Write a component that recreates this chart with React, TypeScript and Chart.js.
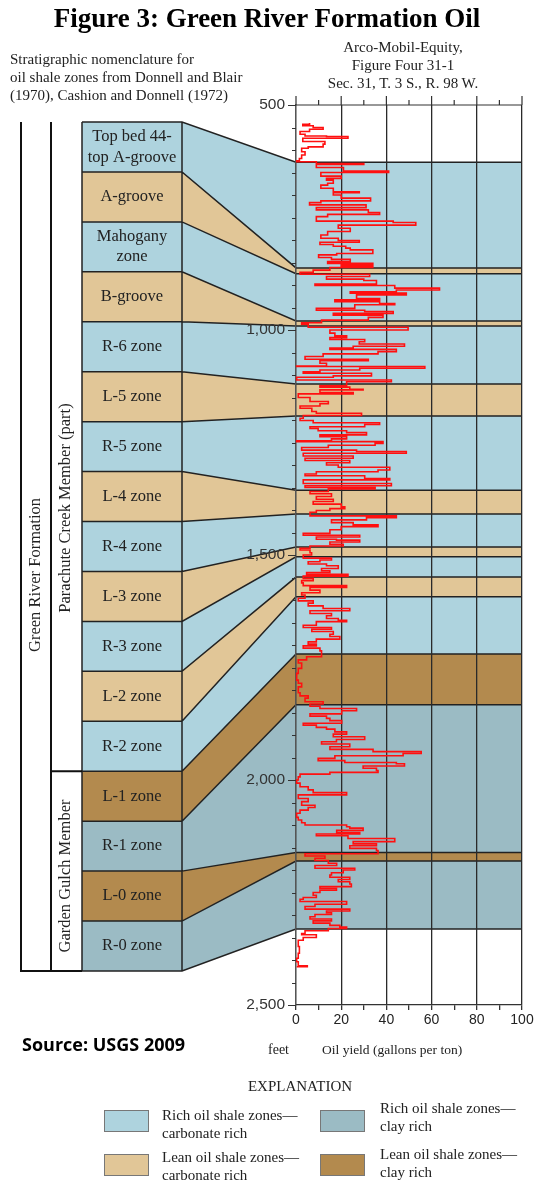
import { useEffect, useRef } from "react";
import { Chart, registerables } from "chart.js";

Chart.register(...registerables);

// ---------- DATA ----------
const zoneNames = [
  "Top bed 44-\ntop A-groove",
  "A-groove",
  "Mahogany\nzone",
  "B-groove",
  "R-6 zone",
  "L-5 zone",
  "R-5 zone",
  "L-4 zone",
  "R-4 zone",
  "L-3 zone",
  "R-3 zone",
  "L-2 zone",
  "R-2 zone",
  "L-1 zone",
  "R-1 zone",
  "L-0 zone",
  "R-0 zone",
];
// rc = rich carbonate, lc = lean carbonate, rk = rich clay, lk = lean clay
const zoneKinds = ["rc", "lc", "rc", "lc", "rc", "lc", "rc", "lc", "rc", "lc", "rc", "lc", "rc", "lk", "rk", "lk", "rk"];
// zone boundary depths (feet) in the well
const zoneDepths = [627, 862, 875, 980, 991, 1120, 1191, 1356, 1409, 1482, 1504, 1549, 1593, 1720, 1833, 2161, 2180, 2331];

const kindColors: Record<string, string> = {
  rc: "#aed3de",
  lc: "#e1c697",
  rk: "#9bbbc4",
  lk: "#b38a4e",
};

const legendItems = [
  { kind: "rc", lines: ["Rich oil shale zones—", "carbonate rich"] },
  { kind: "rk", lines: ["Rich oil shale zones—", "clay rich"] },
  { kind: "lc", lines: ["Lean oil shale zones—", "carbonate rich"] },
  { kind: "lk", lines: ["Lean oil shale zones—", "clay rich"] },
];

const depthRange = [500, 2500];
const yieldRange = [0, 100];

// oil-yield log (depth in feet, yield in gallons per ton)
const logDepth = [
  540, 543, 546, 550, 554, 559, 565, 569, 570, 574, 581, 587, 593, 596, 604, 611, 619, 624,
  626, 630, 632, 639, 647, 650, 658, 663, 667, 674, 678, 685, 693, 695, 700, 707, 713, 717,
  722, 728, 733, 739, 743, 748, 758, 761, 767, 774, 781, 789, 796, 801, 805, 810, 814, 818,
  822, 830, 833, 839, 843, 848, 852, 855, 858, 861, 867, 872, 876, 881, 887, 890, 898, 901,
  907, 911, 915, 918, 922, 930, 933, 937, 941, 944, 952, 956, 959, 963, 967, 972, 978, 984,
  987, 994, 1000, 1007, 1013, 1017, 1021, 1026, 1031, 1036, 1040, 1043, 1048, 1053, 1059, 1065,
  1068, 1074, 1080, 1081, 1085, 1089, 1093, 1096, 1102, 1105, 1111, 1115, 1124, 1127, 1132, 1133,
  1139, 1142, 1150, 1159, 1164, 1169, 1174, 1181, 1185, 1190, 1196, 1201, 1206, 1210, 1215, 1219,
  1224, 1228, 1233, 1237, 1242, 1246, 1248, 1252, 1256, 1261, 1267, 1270, 1274, 1280, 1285, 1290,
  1295, 1300, 1305, 1311, 1315, 1320, 1324, 1330, 1333, 1341, 1346, 1350, 1353, 1359, 1364, 1370,
  1376, 1381, 1387, 1393, 1397, 1401, 1405, 1413, 1417, 1422, 1428, 1433, 1437, 1444, 1452, 1456,
  1460, 1465, 1467, 1471, 1476, 1480, 1485, 1489, 1495, 1500, 1507, 1511, 1515, 1520, 1524, 1530,
  1535, 1539, 1543, 1547, 1552, 1557, 1562, 1568, 1572, 1578, 1584, 1589, 1596, 1602, 1607, 1613,
  1619, 1624, 1630, 1635, 1641, 1645, 1648, 1656, 1661, 1665, 1670, 1676, 1681, 1687, 1693, 1698,
  1702, 1707, 1713, 1717, 1726, 1733, 1740, 1752, 1763, 1778, 1785, 1793, 1800, 1806, 1813, 1818,
  1826, 1831, 1836, 1841, 1846, 1853, 1858, 1863, 1868, 1874, 1878, 1883, 1887, 1893, 1898, 1904,
  1910, 1915, 1920, 1926, 1932, 1937, 1941, 1946, 1952, 1957, 1961, 1964, 1969, 1974, 1979, 1983,
  1987, 1993, 2000, 2007, 2015, 2022, 2028, 2033, 2041, 2048, 2056, 2061, 2067, 2074, 2083, 2089,
  2095, 2100, 2104, 2107, 2112, 2117, 2120, 2124, 2130, 2137, 2142, 2146, 2152, 2157, 2164, 2169,
  2174, 2179, 2185, 2190, 2196, 2200, 2206, 2211, 2216, 2221, 2226, 2231, 2237, 2241, 2245, 2250,
  2256, 2261, 2265, 2270, 2276, 2281, 2287, 2291, 2295, 2299, 2304, 2309, 2313, 2318, 2323, 2327,
  2330, 2335, 2341, 2344, 2350, 2356, 2370, 2385, 2396, 2404, 2413, 2415,
];
const logYield = [
  6, 3, 7.6, 12, 6, 1.8, 4, 13.5, 23, 3, 12.8, 12, 5.4, 2.5, 4, 2.5, 1.5, 0.3,
  9, 30, 9, 21, 41, 11, 20, 13.5, 16.5, 14, 11, 16.5, 28, 16.5, 20, 33, 11, 6,
  31, 9, 32, 37, 14, 9, 43, 53, 18.7, 24, 14, 11, 18.7, 28, 10.6, 16.5, 22, 24,
  34, 18, 10, 15.7, 24, 14, 34, 20, 34, 15, 7.6, 1.8, 32.6, 13.5, 30, 35.6, 8.4, 43.7,
  63.5, 44.4, 24, 48.8, 26.8, 37, 17.2, 37, 43.7, 26, 9, 30.4, 43, 16.5, 38.5, 32, 11.3, 2.5,
  5.4, 49.6, 15, 17.2, 22.4, 15, 30.4, 28, 48, 25.3, 15, 44.4, 36.3, 12, 4, 32,
  10.6, 13.5, 0.3, 57, 28.2, 10.6, 3.2, 33.4, 16.5, 0.3, 42.2, 22.4, 10.6, 23.8, 29.7, 10.6,
  25.3, 1, 6.2, 14.3, 10.6, 1.8, 7, 9, 29, 3.2, 1.8, 7.6, 37, 30.4, 6.2, 9.8,
  22.4, 31.2, 10.6, 22.4, 15.7, 0.3, 38.5, 35, 14.3, 2.5, 26.8, 48.8, 3.2, 25.3, 4, 23.8,
  13.5, 18.7, 41.5, 36.3, 9, 4, 30.4, 41.5, 3.2, 42.2, 4, 35, 14.3, 6.2, 15.7, 9,
  16.5, 7.6, 20, 21.6, 15, 9, 6.2, 44.4, 31.2, 15.7, 25.3, 36.3, 20, 15, 3.2, 28.2,
  9, 17.9, 28.2, 15, 20.9, 6.2, 1.8, 6.2, 6.9, 3.2, 15.7, 10.6, 5.4, 13.5, 18.7, 11.3,
  15, 4.7, 23, 3.2, 7.6, 2.5, 3.2, 22.4, 6.2, 10.6, 2.5, 4, 1, 7.6, 5.4, 12,
  23.8, 6.2, 15.7, 13.5, 18.7, 22.4, 9, 3.2, 15.7, 7, 16.5, 15, 19.4, 9, 5.4, 9,
  3.2, 10.6, 11.3, 11.3, 4.7, 1, 2.5, 1, 0.3, 1, 2.5, 1, 1, 1.8, 5.4, 4,
  12, 6.2, 10.6, 26.8, 20.2, 6.2, 13.5, 15, 20.2, 3.2, 9, 13.5, 17.2, 22.4, 16.5, 30.4,
  17.9, 11.3, 23.8, 15, 34.1, 55.4, 47.4, 17.2, 9.8, 21.6, 44.4, 48, 29.7, 35.6, 36.3, 15,
  1.8, 1, 0.3, 1.8, 5.4, 7.6, 22.4, 1, 5.4, 2.5, 8.4, 5.4, 1.8, 0.3, 1, 2.5,
  4, 22.4, 23.8, 29.7, 18, 28.2, 9, 23, 43.7, 25.3, 35.6, 23.8, 35.6, 36.3, 4, 12.8,
  8.4, 14.3, 18, 8.4, 26, 20.9, 15.7, 15, 23.8, 18.7, 23.8, 24.5, 10.6, 17.9, 10.6, 7.6,
  9, 3.2, 1.8, 22.4, 8.4, 4, 23.8, 13.5, 15.7, 8.4, 6.2, 15.7, 7.6, 15, 19.4, 22.4,
  14.3, 4, 2.5, 9, 3.2, 1, 1.5, 1, 0.3, 1, 5, 0.3,
];

// ---------- STYLE ----------
const SERIF = "'Liberation Serif', 'DejaVu Serif', serif";
const SANS = "'Liberation Sans', 'DejaVu Sans', sans-serif";
const INK = "#222";

const stratPlugin = {
  id: "strat",
  beforeDraw(chart: any) {
    const { ctx, chartArea: ca, scales } = chart;
    const ys = scales.y;
    const L = ca.left;
    const R = ca.right;
    const boxL = 82;
    const boxR = 182;
    const boxTop = ca.top + 17;
    const boxBot = ca.bottom - 34;
    const n = zoneNames.length;
    const bh = (boxBot - boxTop) / n;
    ctx.save();
    // fills
    for (let i = 0; i < n; i++) {
      const y0 = ys.getPixelForValue(zoneDepths[i]);
      const y1 = ys.getPixelForValue(zoneDepths[i + 1]);
      const b0 = boxTop + i * bh;
      const b1 = b0 + bh;
      ctx.fillStyle = kindColors[zoneKinds[i]];
      ctx.fillRect(L, y0, R - L, y1 - y0);
      ctx.beginPath();
      ctx.moveTo(boxR, b0);
      ctx.lineTo(L, y0);
      ctx.lineTo(L, y1);
      ctx.lineTo(boxR, b1);
      ctx.closePath();
      ctx.fill();
      ctx.fillRect(boxL, b0, boxR - boxL, bh);
    }
    // lines
    ctx.strokeStyle = INK;
    ctx.lineWidth = 1.5;
    ctx.beginPath();
    for (let j = 0; j <= n; j++) {
      const y = ys.getPixelForValue(zoneDepths[j]);
      const b = boxTop + j * bh;
      ctx.moveTo(boxL, b);
      ctx.lineTo(boxR, b);
      ctx.lineTo(L, y);
      ctx.lineTo(R, y);
    }
    ctx.moveTo(boxL, boxTop);
    ctx.lineTo(boxL, boxBot);
    ctx.moveTo(boxR, boxTop);
    ctx.lineTo(boxR, boxBot);
    ctx.stroke();
    // brackets
    ctx.lineWidth = 2;
    ctx.strokeStyle = "#111";
    const memberY = boxTop + 13 * bh;
    ctx.beginPath();
    ctx.moveTo(21, boxTop);
    ctx.lineTo(21, boxBot);
    ctx.lineTo(boxL, boxBot);
    ctx.moveTo(51, boxTop);
    ctx.lineTo(51, boxBot);
    ctx.moveTo(51, memberY);
    ctx.lineTo(boxL, memberY);
    ctx.stroke();
    // zone labels
    ctx.fillStyle = INK;
    ctx.font = `16.5px ${SERIF}`;
    ctx.textAlign = "center";
    ctx.textBaseline = "middle";
    for (let i = 0; i < n; i++) {
      const cy = boxTop + (i + 0.5) * bh;
      const lines = zoneNames[i].split("\n");
      lines.forEach((t, k) => {
        ctx.fillText(t, (boxL + boxR) / 2, cy + (k - (lines.length - 1) / 2) * 20.5);
      });
    }
    // rotated labels
    const rot = (t: string, x: number, y: number) => {
      ctx.save();
      ctx.translate(x, y);
      ctx.rotate(-Math.PI / 2);
      ctx.fillText(t, 0, 0);
      ctx.restore();
    };
    ctx.font = `16.5px ${SERIF}`;
    rot("Green River Formation", 36, 575);
    rot("Parachute Creek Member (part)", 66, 508);
    rot("Garden Gulch Member", 66, 876);
    ctx.restore();
  },
  afterDraw(chart: any) {
    const { ctx, chartArea: ca, scales } = chart;
    const ys = scales.y;
    const xs = scales.x;
    ctx.save();
    ctx.strokeStyle = "#333";
    ctx.lineWidth = 1.2;
    ctx.beginPath();
    ys.ticks.forEach((t: any) => {
      const y = Math.round(ys.getPixelForValue(t.value)) + 0.5;
      const len = t.value % 500 === 0 ? 8 : 4;
      ctx.moveTo(ca.left - len, y);
      ctx.lineTo(ca.left, y);
    });
    xs.ticks.forEach((t: any) => {
      const x = xs.getPixelForValue(t.value);
      const len = t.value % 20 === 0 ? 9 : 5;
      ctx.moveTo(x, ca.top - len);
      ctx.lineTo(x, ca.top);
    });
    ctx.moveTo(ca.left, ca.top);
    ctx.lineTo(ca.right, ca.top);
    ctx.stroke();
    ctx.restore();
  },
};

export default function App() {
  const ref = useRef<HTMLCanvasElement | null>(null);

  useEffect(() => {
    if (!ref.current) return;
    const chart = new Chart(ref.current, {
      type: "scatter",
      data: {
        datasets: [
          {
            data: logDepth.map((d, i) => ({ x: logYield[i], y: d })),
            showLine: true,
            stepped: "after",
            borderColor: "#ff1010",
            borderWidth: 1.6,
            pointRadius: 0,
            clip: 6,
          } as any,
        ],
      },
      options: {
        responsive: true,
        maintainAspectRatio: false,
        animation: false,
        events: [],
        layout: { padding: { left: 0, right: 16, top: 105, bottom: 0 } },
        plugins: {
          legend: { display: false },
          tooltip: { enabled: false },
        },
        scales: {
          x: {
            type: "linear",
            position: "bottom",
            min: yieldRange[0],
            max: yieldRange[1],
            afterFit: (s: any) => {
              s.height = 177;
            },
            ticks: {
              stepSize: 10,
              autoSkip: false,
              maxRotation: 0,
              padding: 2,
              color: INK,
              font: { family: SANS, size: 14 },
              callback: (v: any) => (Number(v) % 20 === 0 ? String(v) : ""),
            },
            grid: {
              color: (c: any) => (c.tick && c.tick.value % 20 === 0 ? "#2a2a2a" : "rgba(0,0,0,0)"),
              lineWidth: 1.3,
              tickColor: "#333",
              tickLength: 5,
              drawTicks: true,
            },
            border: { display: true, color: "#333", width: 1.3 },
          },
          y: {
            type: "linear",
            position: "left",
            reverse: true,
            min: depthRange[0],
            max: depthRange[1],
            afterFit: (s: any) => {
              s.width = 296;
            },
            ticks: {
              stepSize: 50,
              autoSkip: false,
              padding: 11,
              color: "#333",
              font: { family: SANS, size: 15.5 },
              callback: (v: any) => (Number(v) % 500 === 0 ? Number(v).toLocaleString("en-US") : ""),
            },
            grid: { display: false, drawTicks: false },
            border: { display: true, color: "#555", width: 1.3 },
          },
        },
      },
      plugins: [stratPlugin],
    });
    return () => chart.destroy();
  }, []);

  const abs = (style: any) => ({ position: "absolute" as const, ...style });

  return (
    <div style={{ position: "absolute", left: 0, top: 0, width: 538, height: 1182, background: "#fff", color: INK, fontFamily: SERIF, overflow: "hidden" }}>
      <div style={abs({ left: 0, top: 0, width: 538, height: 1182 })}>
        <canvas ref={ref} />
      </div>
      <div style={abs({ left: 0, top: 3, width: 534, textAlign: "center", fontSize: 27, fontWeight: "bold", lineHeight: "30px", color: "#000", whiteSpace: "nowrap" })}>
        Figure 3: Green River Formation Oil
      </div>
      <div style={abs({ left: 10, top: 50, fontSize: 15, lineHeight: "18px", whiteSpace: "nowrap" })}>
        Stratigraphic nomenclature for
        <br />
        oil shale zones from Donnell and Blair
        <br />
        (1970), Cashion and Donnell (1972)
      </div>
      <div style={abs({ left: 303, top: 38, width: 200, textAlign: "center", fontSize: 15, lineHeight: "18px", whiteSpace: "nowrap" })}>
        Arco-Mobil-Equity,
        <br />
        Figure Four 31-1
        <br />
        Sec. 31, T. 3 S., R. 98 W.
      </div>
      <div style={abs({ left: 22, top: 1033, fontFamily: "'Open Sans', sans-serif", fontWeight: "bold", fontSize: 18, lineHeight: "22px", color: "#000", whiteSpace: "nowrap" })}>
        Source: USGS 2009
      </div>
      <div style={abs({ left: 268, top: 1041, fontSize: 14, lineHeight: "18px" })}>feet</div>
      <div style={abs({ left: 322, top: 1041, fontSize: 13.5, lineHeight: "18px", whiteSpace: "nowrap" })}>
        Oil yield (gallons per ton)
      </div>
      <div style={abs({ left: 200, top: 1077, width: 200, textAlign: "center", fontSize: 15, lineHeight: "18px" })}>
        EXPLANATION
      </div>
      {legendItems.map((it, i) => {
        const col = i % 2;
        const row = Math.floor(i / 2);
        const bx = col === 0 ? 104 : 320;
        const by = row === 0 ? 1110 : 1154;
        const tx = col === 0 ? 162 : 380;
        const ty = row === 0 ? (col === 0 ? 1106 : 1099) : col === 0 ? 1148 : 1145;
        return (
          <div key={i}>
            <div
              style={abs({
                left: bx,
                top: by,
                width: 45,
                height: 22,
                background: kindColors[it.kind],
                border: "1.5px solid #777",
                boxSizing: "border-box",
              })}
            />
            <div style={abs({ left: tx, top: ty, fontSize: 15, lineHeight: "18px", whiteSpace: "nowrap" })}>
              {it.lines[0]}
              <br />
              {it.lines[1]}
            </div>
          </div>
        );
      })}
    </div>
  );
}
